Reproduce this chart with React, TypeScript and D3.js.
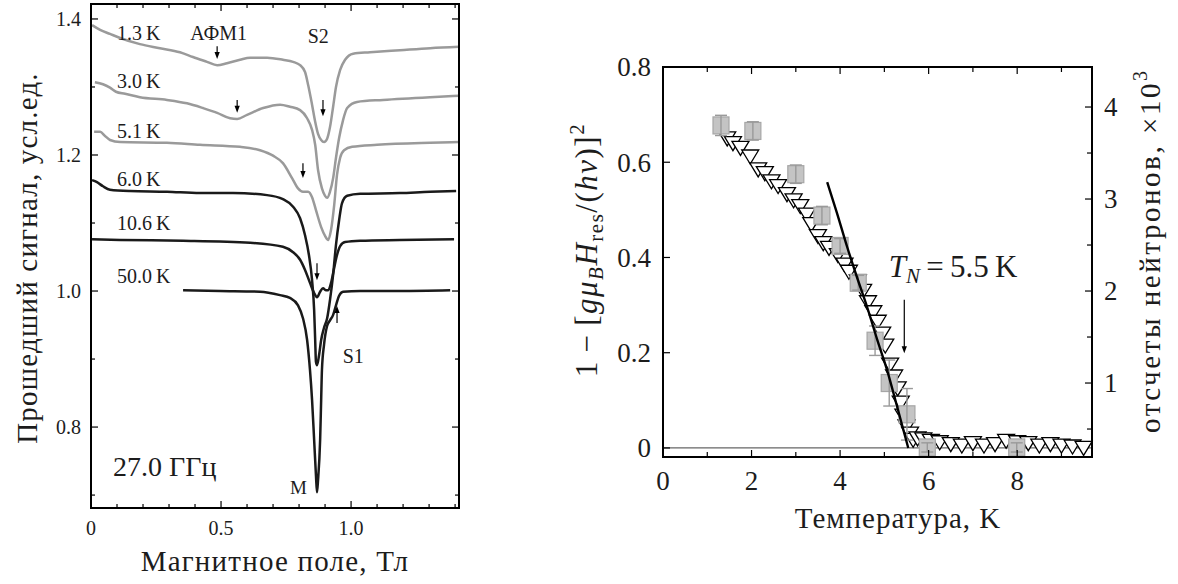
import React from "react";
import * as d3 from "d3";

type Pt = [number, number];

// ---------- left panel: transmitted signal vs field, 27.0 GHz ----------
// [field (T), signal (arb. units)]
const trace13K: Pt[] = [
  [0.004, 1.391], [0.035, 1.384], [0.073, 1.378], [0.112, 1.372], [0.188, 1.363],
  [0.265, 1.357], [0.342, 1.351], [0.392, 1.344], [0.446, 1.337], [0.485, 1.332],
  [0.523, 1.335], [0.573, 1.34], [0.612, 1.343], [0.677, 1.343], [0.738, 1.34],
  [0.777, 1.337], [0.804, 1.332], [0.823, 1.322], [0.835, 1.303], [0.85, 1.274],
  [0.862, 1.249], [0.873, 1.231], [0.885, 1.222], [0.896, 1.219], [0.908, 1.224],
  [0.919, 1.241], [0.931, 1.271], [0.942, 1.3], [0.958, 1.325], [0.977, 1.34],
  [1.008, 1.349], [1.073, 1.351], [1.188, 1.354], [1.304, 1.357], [1.415, 1.359],
];
const trace30K: Pt[] = [
  [0.015, 1.307], [0.046, 1.304], [0.073, 1.299], [0.096, 1.293], [0.131, 1.29],
  [0.188, 1.285], [0.292, 1.281], [0.369, 1.276], [0.431, 1.269], [0.485, 1.262],
  [0.535, 1.254], [0.562, 1.253], [0.6, 1.259], [0.662, 1.269], [0.727, 1.274],
  [0.765, 1.271], [0.804, 1.266], [0.831, 1.254], [0.85, 1.237], [0.862, 1.215],
  [0.873, 1.178], [0.888, 1.151], [0.9, 1.14], [0.908, 1.137], [0.919, 1.146],
  [0.931, 1.166], [0.942, 1.196], [0.954, 1.225], [0.969, 1.251], [0.985, 1.269],
  [1.023, 1.278], [1.123, 1.281], [1.304, 1.285], [1.415, 1.287],
];
const trace51K: Pt[] = [
  [0.012, 1.234], [0.035, 1.234], [0.054, 1.228], [0.073, 1.222], [0.112, 1.219],
  [0.292, 1.218], [0.419, 1.215], [0.573, 1.212], [0.65, 1.207], [0.7, 1.199],
  [0.738, 1.188], [0.773, 1.166], [0.796, 1.151], [0.815, 1.146], [0.835, 1.146],
  [0.85, 1.138], [0.865, 1.119], [0.885, 1.094], [0.9, 1.081], [0.912, 1.075],
  [0.923, 1.09], [0.935, 1.126], [0.946, 1.171], [0.958, 1.196], [0.973, 1.207],
  [1.004, 1.212], [1.1, 1.215], [1.304, 1.218], [1.415, 1.219],
];
const trace60K: Pt[] = [
  [0.004, 1.163], [0.023, 1.16], [0.046, 1.154], [0.073, 1.149], [0.15, 1.147],
  [0.292, 1.146], [0.419, 1.144], [0.546, 1.144], [0.677, 1.141], [0.738, 1.135],
  [0.777, 1.124], [0.804, 1.107], [0.823, 1.082], [0.838, 1.053], [0.85, 1.016],
  [0.858, 0.972], [0.862, 0.928], [0.865, 0.896], [0.869, 0.891], [0.877, 0.906],
  [0.885, 0.928], [0.896, 0.946], [0.908, 0.96], [0.919, 0.987], [0.931, 1.024],
  [0.942, 1.068], [0.954, 1.104], [0.965, 1.129], [0.985, 1.14], [1.035, 1.143],
  [1.188, 1.144], [1.304, 1.146], [1.404, 1.147],
];
const trace106K: Pt[] = [
  [0.004, 1.076], [0.112, 1.075], [0.354, 1.074], [0.612, 1.071], [0.738, 1.065],
  [0.777, 1.057], [0.804, 1.046], [0.823, 1.031], [0.842, 1.012], [0.858, 0.997],
  [0.869, 0.991], [0.881, 0.999], [0.892, 1.004], [0.904, 1.001], [0.912, 1.001],
  [0.923, 1.012], [0.935, 1.034], [0.946, 1.053], [0.958, 1.066], [0.977, 1.072],
  [1.035, 1.074], [1.188, 1.075], [1.396, 1.076],
];
const trace500K: Pt[] = [
  [0.354, 1.001], [0.496, 1.0], [0.65, 0.999], [0.727, 0.994], [0.765, 0.99],
  [0.796, 0.979], [0.815, 0.96], [0.831, 0.928], [0.842, 0.884], [0.85, 0.84],
  [0.858, 0.781], [0.865, 0.729], [0.869, 0.704], [0.873, 0.722], [0.881, 0.781],
  [0.885, 0.84], [0.888, 0.884], [0.896, 0.921], [0.908, 0.949], [0.919, 0.957],
  [0.931, 0.965], [0.942, 0.979], [0.954, 0.993], [0.969, 0.999], [1.035, 1.0],
  [1.188, 1.0], [1.381, 1.001],
];
const traces = [trace13K, trace30K, trace51K, trace60K, trace106K, trace500K];
const traceNames = ["1.3\u2009K", "3.0\u2009K", "5.1\u2009K", "6.0\u2009K", "10.6\u2009K", "50.0\u2009K"];
const traceGray = [true, true, true, false, false, false];
const traceLabelV = [1.369, 1.299, 1.225, 1.154, 1.09, 1.012];

const fieldTicks = [0, 0.5, 1.0];
const signalTicks = [0.8, 1.0, 1.2, 1.4];

// ---------- right panel: order parameter vs temperature ----------
const triTemp = [
  1.45, 1.58, 1.75, 1.97, 2.15, 2.3, 2.45, 2.6, 2.8, 2.95, 3.1, 3.25, 3.35, 3.5, 3.62,
  3.75, 3.95, 4.1, 4.2, 4.4, 4.52, 4.63, 4.75, 4.85, 4.95, 5.02, 5.13, 5.22, 5.3, 5.37,
  5.43, 5.5, 5.58, 5.65, 5.75, 5.88, 6.05, 6.25, 6.5, 6.75, 7.0, 7.25, 7.5, 7.75,
  8.0, 8.25, 8.5, 8.75, 9.0, 9.25, 9.5,
];
const triValue = [
  0.65, 0.64, 0.63, 0.612, 0.585, 0.577, 0.56, 0.55, 0.533, 0.52, 0.508, 0.49, 0.47, 0.445, 0.43,
  0.42, 0.405, 0.385, 0.37, 0.35, 0.33, 0.306, 0.285, 0.265, 0.24, 0.215, 0.175, 0.15, 0.125, 0.095,
  0.068, 0.045, 0.03, 0.017, 0.02, 0.018, 0.015, 0.012, 0.008, 0.005, 0.01, 0.005, 0.008, 0.015,
  0.012, 0.01, 0.005, 0.008, 0.005, 0.003, 0.0,
];
// neutron counts (x10^3), right axis
const sqTemp = [1.31, 2.03, 3.0, 3.59, 4.0, 4.41, 4.79, 5.11, 5.51, 5.97, 7.99];
const sqCounts = [3.8, 3.74, 3.27, 2.82, 2.49, 2.09, 1.46, 1.0, 0.66, 0.3, 0.3];
const sqErr = [0.11, 0.1, 0.1, 0.1, 0.08, 0.08, 0.16, 0.25, 0.28, 0.05, 0.05];
// fit curve
const fitTemp = [3.71, 3.93, 4.16, 4.38, 4.61, 4.84, 5.06, 5.29, 5.54];
const fitValue = [0.558, 0.493, 0.422, 0.359, 0.296, 0.227, 0.164, 0.086, 0.0];

const tempTicks = [0, 2, 4, 6, 8];
const tempMinor = [1, 3, 5, 7, 9];
const orderTicks = [0, 0.2, 0.4, 0.6, 0.8];
const countTicks = [1, 2, 3, 4];
const countMinor = [0.5, 1.5, 2.5, 3.5];

const FONT = "Liberation Serif, Times New Roman, serif";
const INK = "#1c1c1c";

function Arrow({ x, y1, y2 }: { x: number; y1: number; y2: number }) {
  const dir = y2 > y1 ? 1 : -1;
  return (
    <g>
      <line x1={x} x2={x} y1={y1} y2={y2 - dir * 5} stroke="#000" strokeWidth={1.2} />
      <path d={`M${x - 2.6},${y2 - dir * 7} L${x + 2.6},${y2 - dir * 7} L${x},${y2} Z`} fill="#000" />
    </g>
  );
}

export default function App() {
  // left panel scales
  const xL = d3.scaleLinear().domain([0, 1.415]).range([91, 459]);
  const yL = d3.scaleLinear().domain([0.681, 1.422]).range([508, 4]);
  const lineL = d3
    .line<Pt>()
    .x((d) => xL(d[0]))
    .y((d) => yL(d[1]))
    .curve(d3.curveMonotoneX);

  // right panel scales
  const xR = d3.scaleLinear().domain([0, 9.69]).range([663, 1092]);
  const yR = d3.scaleLinear().domain([-0.019, 0.8]).range([457, 67]);
  const yC = d3.scaleLinear().domain([0.196, 4.435]).range([457, 67]);
  const fitLine = d3
    .line<number>()
    .x((d, i) => xR(fitTemp[i]))
    .y((d) => yR(d))
    .curve(d3.curveMonotoneX);

  const fieldMinor = d3
    .range(1, 15)
    .map((i) => i / 10)
    .filter((v) => Math.abs(v - 0.5) > 1e-6 && Math.abs(v - 1) > 1e-6);
  const signalMinor = [0.7, 0.9, 1.1, 1.3];

  const triPath = "M-8.5,-6.5 L8.5,-6.5 L0,7.5 Z";

  return (
    <div style={{ position: "absolute", left: 0, top: 0 }}>
      <svg width={1178} height={584} style={{ display: "block", background: "#fff", fontFamily: FONT }}>
        {/* ===== left panel ===== */}
        <g>
          {traces.map((t, i) => (
            <path
              key={i}
              d={lineL(t) || ""}
              fill="none"
              stroke={traceGray[i] ? "#9a9a9a" : "#1a1a1a"}
              strokeWidth={2.5}
              strokeLinejoin="round"
            />
          ))}
          <rect x={91} y={4} width={368} height={504} fill="none" stroke="#000" strokeWidth={2} />
          {fieldTicks.map((v) => (
            <g key={"fx" + v}>
              <line x1={xL(v)} x2={xL(v)} y1={508} y2={501} stroke="#000" strokeWidth={1.2} />
              <line x1={xL(v)} x2={xL(v)} y1={4} y2={11} stroke="#000" strokeWidth={1.2} />
              <text x={xL(v)} y={535} textAnchor="middle" fontSize={20} fill={INK}>
                {v === 0 ? "0" : v.toFixed(1)}
              </text>
            </g>
          ))}
          {fieldMinor.map((v) => (
            <g key={"fm" + v}>
              <line x1={xL(v)} x2={xL(v)} y1={508} y2={504} stroke="#000" strokeWidth={1.2} />
              <line x1={xL(v)} x2={xL(v)} y1={4} y2={8} stroke="#000" strokeWidth={1.2} />
            </g>
          ))}
          {signalTicks.map((v) => (
            <g key={"sy" + v}>
              <line x1={91} x2={98} y1={yL(v)} y2={yL(v)} stroke="#000" strokeWidth={1.2} />
              <line x1={459} x2={452} y1={yL(v)} y2={yL(v)} stroke="#000" strokeWidth={1.2} />
              <text x={81} y={yL(v)} dy="0.35em" textAnchor="end" fontSize={20} fill={INK}>
                {v.toFixed(1)}
              </text>
            </g>
          ))}
          {signalMinor.map((v) => (
            <g key={"sm" + v}>
              <line x1={91} x2={95} y1={yL(v)} y2={yL(v)} stroke="#000" strokeWidth={1.2} />
              <line x1={459} x2={455} y1={yL(v)} y2={yL(v)} stroke="#000" strokeWidth={1.2} />
            </g>
          ))}
          {traceNames.map((n, i) => (
            <text key={n} x={xL(0.1)} y={yL(traceLabelV[i])} fontSize={20} fill={INK}>
              {n}
            </text>
          ))}
          <text x={xL(0.382)} y={yL(1.369)} fontSize={20} fill={INK}>АФМ1</text>
          <text x={xL(0.833)} y={yL(1.365)} fontSize={20} fill={INK}>S2</text>
          <text x={xL(0.968)} y={yL(0.894)} fontSize={20} fill={INK}>S1</text>
          <text x={xL(0.765)} y={yL(0.702)} fontSize={19} fill={INK}>M</text>
          <text x={xL(0.085)} y={yL(0.728)} fontSize={28} fill={INK}>27.0 ГГц</text>
          <Arrow x={xL(0.485)} y1={yL(1.36)} y2={yL(1.341)} />
          <Arrow x={xL(0.562)} y1={yL(1.281)} y2={yL(1.262)} />
          <Arrow x={xL(0.892)} y1={yL(1.281)} y2={yL(1.257)} />
          <Arrow x={xL(0.815)} y1={yL(1.188)} y2={yL(1.166)} />
          <Arrow x={xL(0.869)} y1={yL(1.041)} y2={yL(1.016)} />
          <Arrow x={xL(0.946)} y1={yL(0.953)} y2={yL(0.978)} />
          <text transform={`translate(37,258) rotate(-90)`} textAnchor="middle" fontSize={29} letterSpacing={1.2} fill={INK}>
            Прошедший сигнал, усл.ед.
          </text>
          <text x={275} y={571} textAnchor="middle" fontSize={29} letterSpacing={1.2} fill={INK}>
            Магнитное поле, Тл
          </text>
        </g>

        {/* ===== right panel ===== */}
        <g>
          <line x1={663} x2={1092} y1={yR(0)} y2={yR(0)} stroke="#666" strokeWidth={1.2} />
          {triTemp.map((t, i) => (
            <path
              key={"t" + i}
              d={triPath}
              transform={`translate(${xR(t)},${yR(triValue[i])})`}
              fill="#fff"
              stroke="#000"
              strokeWidth={1.3}
            />
          ))}
          {sqTemp.map((t, i) => (
            <g key={"s" + i}>
              <rect
                x={xR(t) - 8}
                y={yC(sqCounts[i]) - 8.5}
                width={16}
                height={17}
                fill="#c4c4c4"
                stroke="#a6a6a6"
                strokeWidth={1.2}
              />
              <line x1={xR(t)} x2={xR(t)} y1={yC(sqCounts[i] + sqErr[i])} y2={yC(sqCounts[i] - sqErr[i])} stroke="#9a9a9a" strokeWidth={1.4} />
              <line x1={xR(t) - 6} x2={xR(t) + 6} y1={yC(sqCounts[i] + sqErr[i])} y2={yC(sqCounts[i] + sqErr[i])} stroke="#9a9a9a" strokeWidth={1.4} />
              <line x1={xR(t) - 6} x2={xR(t) + 6} y1={yC(sqCounts[i] - sqErr[i])} y2={yC(sqCounts[i] - sqErr[i])} stroke="#9a9a9a" strokeWidth={1.4} />
            </g>
          ))}
          <path d={fitLine(fitValue) || ""} fill="none" stroke="#000" strokeWidth={2.4} />

          <rect x={663} y={67} width={429} height={390} fill="none" stroke="#000" strokeWidth={2} />
          {tempTicks.map((v) => (
            <g key={"tx" + v}>
              <line x1={xR(v)} x2={xR(v)} y1={457} y2={450} stroke="#000" strokeWidth={1.2} />
              <line x1={xR(v)} x2={xR(v)} y1={67} y2={74} stroke="#000" strokeWidth={1.2} />
              <text x={xR(v)} y={490} textAnchor="middle" fontSize={27} fill={INK}>
                {v}
              </text>
            </g>
          ))}
          {tempMinor.map((v) => (
            <g key={"tm" + v}>
              <line x1={xR(v)} x2={xR(v)} y1={457} y2={452} stroke="#000" strokeWidth={1.2} />
              <line x1={xR(v)} x2={xR(v)} y1={67} y2={72} stroke="#000" strokeWidth={1.2} />
            </g>
          ))}
          {orderTicks.map((v) => (
            <g key={"oy" + v}>
              <line x1={663} x2={670} y1={yR(v)} y2={yR(v)} stroke="#000" strokeWidth={1.2} />
              <text x={651} y={yR(v)} dy="0.35em" textAnchor="end" fontSize={27} fill={INK}>
                {v === 0 ? "0" : v.toFixed(1)}
              </text>
            </g>
          ))}
          {countTicks.map((v) => (
            <g key={"cy" + v}>
              <line x1={1092} x2={1085} y1={yC(v)} y2={yC(v)} stroke="#000" strokeWidth={1.2} />
              <text x={1104} y={yC(v)} dy="0.35em" fontSize={27} fill={INK}>
                {v}
              </text>
            </g>
          ))}
          {countMinor.map((v) => (
            <line key={"cm" + v} x1={1092} x2={1087} y1={yC(v)} y2={yC(v)} stroke="#000" strokeWidth={1.2} />
          ))}

          <text x={xR(5.1)} y={yR(0.359)} fontSize={31} fill={INK}>
            <tspan fontStyle="italic">T</tspan>
            <tspan fontStyle="italic" fontSize={21} dy={6}>N</tspan>
            <tspan dy={-6}>{"\u2009=\u20095.5\u2009K"}</tspan>
          </text>
          <Arrow x={xR(5.45)} y1={yR(0.311)} y2={yR(0.199)} />

          <text x={898} y={528} textAnchor="middle" fontSize={29} letterSpacing={1} fill={INK}>
            Температура, K
          </text>
          <text
            transform={`translate(597,250) rotate(-90)`}
            textAnchor="middle"
            fontSize={31}
            letterSpacing={1.5}
            fill={INK}
          >
            <tspan>{"1\u2009−\u2009["}</tspan>
            <tspan fontStyle="italic">{"gμ"}</tspan>
            <tspan fontStyle="italic" fontSize={21} dy={6}>B</tspan>
            <tspan fontStyle="italic" dy={-6}>H</tspan>
            <tspan fontSize={21} dy={6}>res</tspan>
            <tspan dy={-6}>{"/("}</tspan>
            <tspan fontStyle="italic">{"hν"}</tspan>
            <tspan>{")]"}</tspan>
            <tspan fontSize={21} dy={-13}>2</tspan>
          </text>
          <text
            transform={`translate(1160,252) rotate(-90)`}
            textAnchor="middle"
            fontSize={29}
            textLength={362}
            lengthAdjust="spacing"
            fill={INK}
          >
            <tspan>{"отсчеты нейтронов, ×10"}</tspan>
            <tspan fontSize={20} dy={-13}>3</tspan>
          </text>
        </g>
      </svg>
    </div>
  );
}
